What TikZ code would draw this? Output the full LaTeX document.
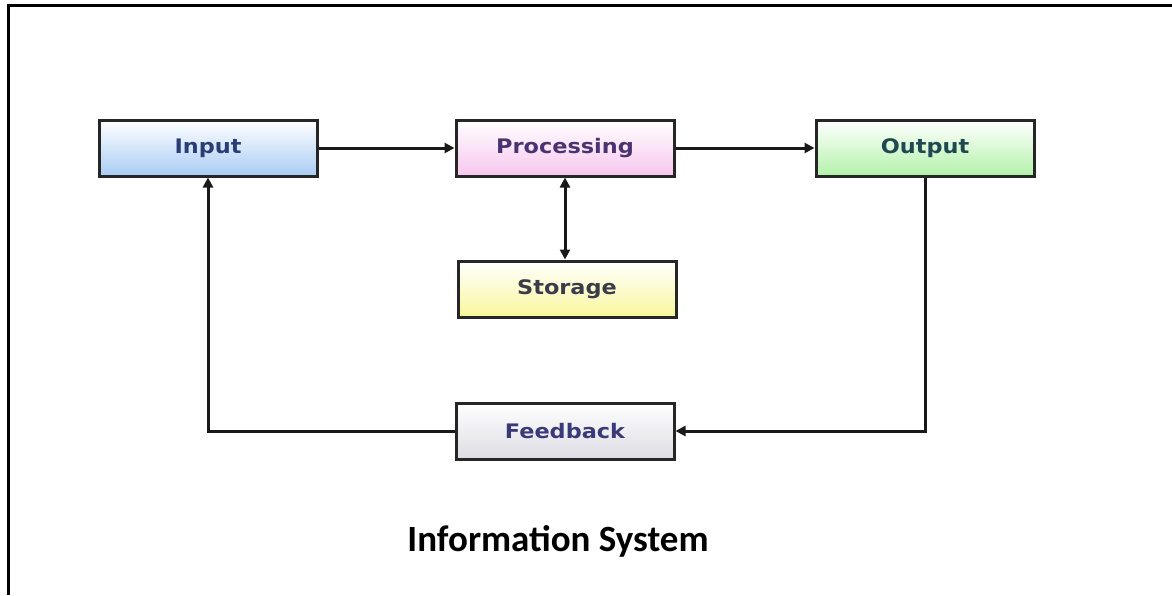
\documentclass[tikz,border=0pt]{standalone}
\usepackage{fontspec}
\usepackage{graphicx}
\setmainfont{Carlito}
\newfontfamily\boxfont{DejaVu Sans}
\usetikzlibrary{arrows.meta}
\definecolor{inblue}{HTML}{A9CCF4}
\definecolor{prpink}{HTML}{F7C6EE}
\definecolor{outgreen}{HTML}{B3F2AA}
\definecolor{styellow}{HTML}{F8F79C}
\definecolor{fbgray}{HTML}{DDDCE4}
\definecolor{txtblue}{HTML}{2C3C74}
\definecolor{txtpurple}{HTML}{4A3470}
\definecolor{txtteal}{HTML}{1F4850}
\definecolor{txtgray}{HTML}{3A3C4A}
\definecolor{txtnavy}{HTML}{3A3A78}
\newcommand{\bxt}[1]{\raisebox{-2pt}{\scalebox{1.12}[1]{\boxfont\bfseries\fontsize{20}{23}\selectfont #1}}}
\tikzset{
  blk/.style={draw=black!85, line width=3pt, minimum width=218pt, minimum height=56pt, inner sep=0pt},
  conn/.style={line width=3pt, draw=black!90},
  tip/.style={-{Triangle[length=10pt,width=10pt]}},
  frame/.style={line width=3pt, draw=black},
}
\begin{document}
\begin{tikzpicture}[x=1pt,y=-1pt]
\useasboundingbox (0,0) rectangle (1172,595);
\draw[frame] (1172,5) -- (8,5) -- (8,595);
\node[blk, top color=white, bottom color=inblue, text=txtblue] (in) at (208,148) {\bxt{Input}};
\node[blk, top color=white, bottom color=prpink, text=txtpurple] (pr) at (565,148) {\bxt{Processing}};
\node[blk, top color=white, bottom color=outgreen, text=txtteal] (out) at (925,148) {\bxt{Output}};
\node[blk, top color=white, bottom color=styellow, text=txtgray] (st) at (567,289) {\bxt{Storage}};
\node[blk, top color=white, bottom color=fbgray, text=txtnavy] (fb) at (565,431) {\bxt{Feedback}};
\node[font=\fontsize{37}{44}\selectfont\bfseries] (title) at (558,541) {Information System};
\draw[conn, tip] (in.east) -- (pr.west);
\draw[conn, tip] (pr.east) -- (out.west);
\draw[conn, {Triangle[length=10pt,width=10pt]}-{Triangle[length=10pt,width=10pt]}] (pr.south) -- (pr.south |- st.north);
\draw[conn, tip] (out.south) |- (fb.east);
\draw[conn, tip] (fb.west) -| (in.south);
\end{tikzpicture}
\end{document}
